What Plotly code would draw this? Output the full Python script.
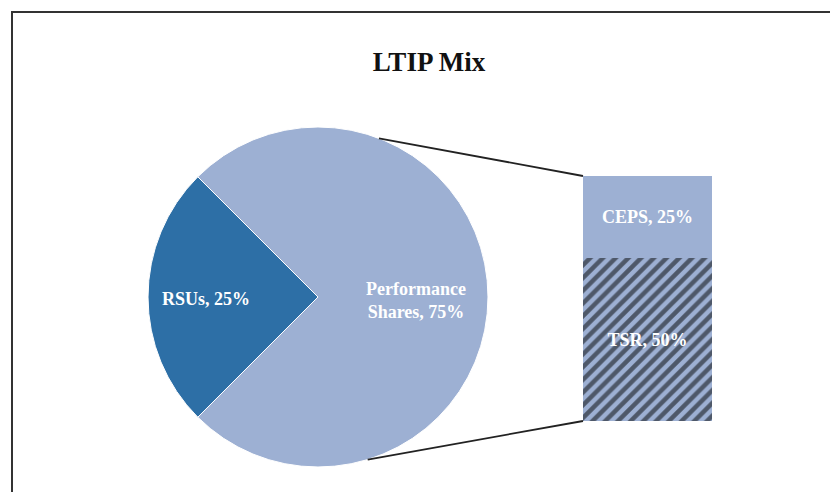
import math
import plotly.graph_objects as go

# ---- data ----
pie_labels = ["RSUs", "Performance Shares"]
pie_values = [25, 75]
bar_labels = ["TSR", "CEPS"]          # bottom to top
bar_values = [50, 25]
title_text = "LTIP Mix"

# ---- style / layout constants ----
W, H = 830, 492
LIGHT = "rgb(157,176,211)"
DARK = "rgb(45,111,166)"
SERIF = "Liberation Serif"
PIE_CX, PIE_CY, PIE_R = 318, 297, 170
BAR_X0, BAR_X1, BAR_TOP, BAR_BOT = 583, 712, 176, 421


def px(x):
    return x / W


def py(y):
    return 1 - y / H


fig = go.Figure()

fig.add_trace(go.Pie(
    labels=pie_labels,
    values=pie_values,
    sort=False,
    direction="counterclockwise",
    rotation=-135,
    marker=dict(colors=[DARK, LIGHT], line=dict(color="white", width=1)),
    textinfo="none",
    hoverinfo="label+percent",
    showlegend=False,
    domain=dict(x=[px(PIE_CX - PIE_R), px(PIE_CX + PIE_R)],
                y=[py(PIE_CY + PIE_R), py(PIE_CY - PIE_R)]),
))

total = sum(bar_values)
for lab, val, pat in zip(bar_labels, bar_values, ["/", ""]):
    fig.add_trace(go.Bar(
        x=[0], y=[val], width=1,
        name=lab,
        text=[f"{lab}, {val}%"],
        textposition="inside",
        insidetextanchor="middle",
        textangle=0,
        constraintext="none",
        textfont=dict(family=SERIF, size=18, color="white", weight="bold"),
        marker=dict(color=LIGHT, line=dict(width=0),
                    pattern=dict(shape=pat, fgcolor="#000000", bgcolor=LIGHT,
                                 size=9, solidity=0.5)),
        showlegend=False,
        xaxis="x", yaxis="y",
    ))

# pie labels
pie_text = [f"{pie_labels[0]}, {pie_values[0]}%",
            pie_labels[1].replace(" ", "<br>") + f", {pie_values[1]}%"]
ann_pos = [(206, 299), (416, 300)]
annotations = []
for t, (ax_, ay_) in zip(pie_text, ann_pos):
    annotations.append(dict(
        x=px(ax_), y=py(ay_), xref="paper", yref="paper",
        text=t, showarrow=False, xanchor="center", yanchor="middle",
        font=dict(family=SERIF, size=18, color="white", weight="bold"),
    ))

# connector lines from pie edge to bar corners
a_top, a_bot = math.radians(69), math.radians(-73)
shapes = [
    dict(type="line", xref="paper", yref="paper",
         x0=px(PIE_CX + PIE_R * math.cos(a_top)), y0=py(PIE_CY - PIE_R * math.sin(a_top)),
         x1=px(BAR_X0), y1=py(BAR_TOP), line=dict(color="#222", width=1.8)),
    dict(type="line", xref="paper", yref="paper",
         x0=px(PIE_CX + PIE_R * math.cos(a_bot)), y0=py(PIE_CY - PIE_R * math.sin(a_bot)),
         x1=px(BAR_X0), y1=py(BAR_BOT), line=dict(color="#222", width=1.8)),
    dict(type="rect", xref="paper", yref="paper",
         x0=px(12), x1=1.02, y0=-0.02, y1=py(12),
         line=dict(color="#333", width=2)),
]

fig.update_layout(
    width=W, height=H,
    margin=dict(l=0, r=0, t=0, b=0),
    paper_bgcolor="white", plot_bgcolor="rgba(0,0,0,0)",
    barmode="stack",
    bargap=0,
    title=dict(text=f"<b>{title_text}</b>", x=px(429), y=py(62),
               xanchor="center", yanchor="middle",
               font=dict(family=SERIF, size=27, color="#111")),
    xaxis=dict(domain=[px(BAR_X0), px(BAR_X1)], range=[-0.5, 0.5],
               visible=False, fixedrange=True),
    yaxis=dict(domain=[py(BAR_BOT), py(BAR_TOP)], range=[0, total],
               visible=False, fixedrange=True),
    annotations=annotations,
    shapes=shapes,
)

fig.write_html("out.html",
               config={"displayModeBar": False},
               post_script="document.body.style.margin='0px';document.body.style.overflow='hidden';")
